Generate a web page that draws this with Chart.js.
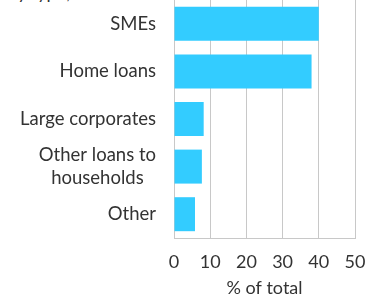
<!DOCTYPE html>
<html>
<head>
<meta charset="utf-8">
<script src="https://cdn.jsdelivr.net/npm/chart.js@4"></script>
<style>
html,body{margin:0;padding:0;background:#fff;overflow:hidden;}
body{width:368px;height:299px;position:relative;}
#t{position:absolute;left:6px;top:-19px;font:18px Lato, sans-serif;color:#333;white-space:nowrap;}
#w{position:absolute;left:0;top:0;width:368px;height:299px;}
</style>
</head>
<body>
<div id="t">By type, % of total</div>
<div id="w"><canvas id="c"></canvas></div>
<script>
const categories = ["SMEs", "Home loans", "Large corporates", ["Other loans to", "households"], "Other"];
const shares = [40, 38, 8.2, 7.7, 5.8];
const xTicks = [0, 10, 20, 30, 40, 50];
const xTitle = "% of total";

const FONT = "Lato, sans-serif";
const CAT_SIZE = 18.5;
Chart.defaults.font.family = FONT;
Chart.defaults.color = "#333";

// draws category labels right-aligned as a block, lines centred within the block
const catLabels = {
  id: 'catLabels',
  afterDraw(chart) {
    const ctx = chart.ctx, y = chart.scales.y;
    ctx.save();
    ctx.font = CAT_SIZE + 'px ' + FONT;
    ctx.fillStyle = '#333';
    ctx.textBaseline = 'middle';
    ctx.textAlign = 'center';
    const right = y.right - 18;
    const lh = CAT_SIZE * 1.2;
    chart.data.labels.forEach((lab, i) => {
      const lines = Array.isArray(lab) ? lab : [lab];
      const w = Math.max(...lines.map(l => ctx.measureText(l).width));
      const cx = right - w / 2;
      const cy = y.getPixelForTick(i);
      lines.forEach((l, j) => {
        ctx.fillText(l, cx, cy + (j - (lines.length - 1) / 2) * lh);
      });
    });
    ctx.restore();
  }
};

new Chart(document.getElementById('c'), {
  type: 'bar',
  data: {
    labels: categories,
    datasets: [{
      data: shares,
      backgroundColor: '#33ccff',
      borderWidth: 0,
      categoryPercentage: 1,
      barPercentage: 0.714
    }]
  },
  plugins: [catLabels],
  options: {
    indexAxis: 'y',
    responsive: true,
    maintainAspectRatio: false,
    animation: false,
    layout: { padding: { top: 0, right: 13, bottom: 0, left: 0 } },
    plugins: { legend: { display: false }, tooltip: { enabled: false } },
    scales: {
      x: {
        min: 0, max: 50,
        afterBuildTicks: (s) => { s.ticks = xTicks.map(v => ({ value: v })); },
        afterFit: (s) => { s.height = 61; s.paddingLeft = 0; s.paddingRight = 0; },
        ticks: { font: { size: 18 }, padding: 13, color: '#333', maxRotation: 0, autoSkip: false },
        grid: { color: '#c8c8c8', lineWidth: 1, drawTicks: false },
        border: { color: '#c8c8c8', width: 1 },
        title: { display: true, text: xTitle, font: { size: 18 }, color: '#333', padding: { top: 0, bottom: 0 } }
      },
      y: {
        afterFit: (s) => { s.width = 174; s.paddingTop = 0; s.paddingBottom = 0; },
        ticks: { display: false },
        grid: { display: false, drawTicks: false },
        border: { color: '#c8c8c8', width: 1 }
      }
    }
  }
});
</script>
</body>
</html>
